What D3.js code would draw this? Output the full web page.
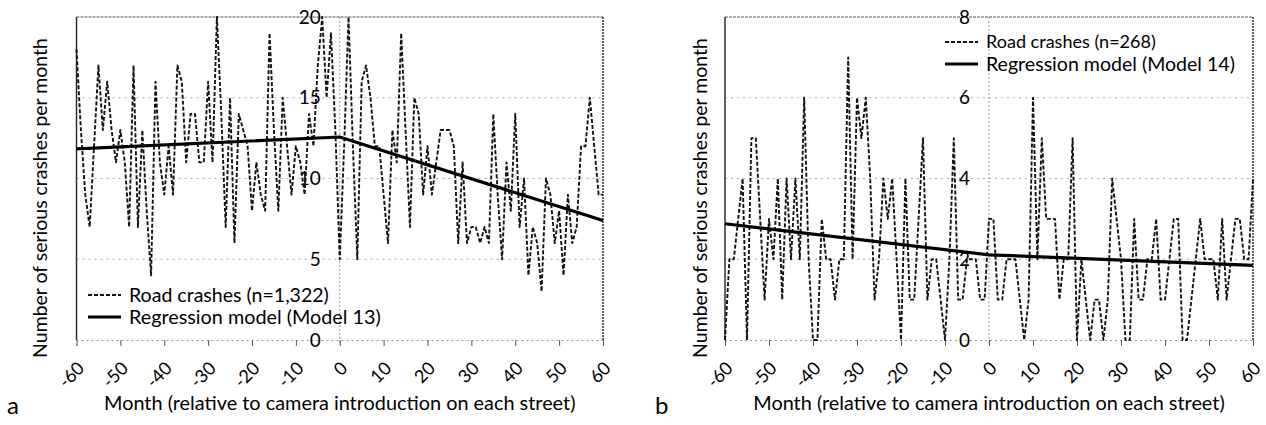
<!DOCTYPE html>
<html><head><meta charset="utf-8">
<script src="https://cdn.jsdelivr.net/npm/d3@7/dist/d3.min.js"></script>
<style>
body{margin:0;background:#fff}
text{font-family:Lato,"Open Sans",sans-serif;fill:#000}
</style>
</head><body>
<svg id="chart" width="1266" height="425"></svg>
<script>
// ---------- DATA ----------
const xTickValues = [-60,-50,-40,-30,-20,-10,0,10,20,30,40,50,60];
const yTicksA = [0,5,10,15,20];
const yTicksB = [0,2,4,6,8];

// Panel a: serious crashes per month, months -60 .. 60
const crashesA = [
 18,13,9,7,12,17,13,16,13,11,
 13,11,7,17,7,13,8,4,16,11,
 9,12,9,17,16,11,14,14,11,11,
 16,11,20,14,7,15,6,14,13,12,
 8,11,9,8,19,13,8,15,12,9,
 12,11,9,14,12,17,20,15,19,13,
 5,12,20,12,5,16,17,15,12,12,
 9,6,13,11,19,13,7,15,14,9,
 12,9,11,13,13,13,12,6,11,6,
 7,7,6,7,6,14,9,5,11,8,
 14,7,10,4,7,6,3,10,9,6,
 8,4,9,6,7,12,12,15,12,9,9
];
// Panel b
const crashesB = [
 0,2,2,3,4,0,5,5,3,1,
 3,2,4,1,4,2,4,2,6,2,
 0,0,3,2,2,1,2,2,7,2,
 6,5,6,4,1,2,4,3,4,2,
 0,4,1,1,3,5,1,2,2,1,
 0,2,5,1,1,2,2,2,1,1,
 3,3,1,1,2,2,2,1,0,1,
 6,2,5,3,3,3,1,2,2,5,
 0,2,1,0,1,1,0,1,4,3,
 2,0,0,3,1,1,2,2,3,1,
 1,2,3,3,0,0,1,2,3,2,
 2,2,1,3,1,2,3,3,2,2,4
];
// Regression models (piecewise, break at camera introduction)
const regMonths = [-60, 0, 60];
const regA = [11.84, 12.57, 7.4];
const regB = [2.88, 2.11, 1.85];

const legendA = ["Road crashes (n=1,322)", "Regression model (Model 13)"];
const legendB = ["Road crashes (n=268)", "Regression model (Model 14)"];
const yTitle = "Number of serious crashes per month";
const xTitle = "Month (relative to camera introduction on each street)";

// ---------- DRAW ----------
const svg = d3.select("#chart");

function fitText(sel, width, base) {
  sel.style("font-size", base + "px");
  const len = sel.node().getComputedTextLength();
  sel.style("font-size", (base * width / len).toFixed(2) + "px");
}

function panel(o) {
  const months = o.crashes.map((d, i) => i - 60);
  const x = d3.scaleLinear().domain([-60, 60]).range([o.x0, o.x1]);
  const y = d3.scaleLinear().domain([0, o.yMax]).range([o.yBot, o.yTop]);
  const g = svg.append("g");

  // gridlines
  g.selectAll(".grid").data(o.yTicks.filter(v => v > 0 && v < o.yMax)).join("line")
    .attr("x1", o.x0).attr("x2", o.x1).attr("y1", d => y(d)).attr("y2", d => y(d))
    .attr("stroke", "#aaa").attr("stroke-width", 1).attr("stroke-dasharray", "2,4");
  // top border
  g.append("line").attr("x1", o.x0).attr("x2", o.x1).attr("y1", y(o.yMax)).attr("y2", y(o.yMax))
    .attr("stroke", "#555").attr("stroke-width", 1.2).attr("stroke-dasharray", "3,1");
  // right border
  g.append("line").attr("x1", o.x1).attr("x2", o.x1).attr("y1", y(o.yMax)).attr("y2", y(0))
    .attr("stroke", "#333").attr("stroke-width", 1.5).attr("stroke-dasharray", "2,1");
  // zero month vertical line
  g.append("line").attr("x1", x(0)).attr("x2", x(0)).attr("y1", y(o.yMax)).attr("y2", y(0) + 4)
    .attr("stroke", "#999").attr("stroke-width", 1).attr("stroke-dasharray", "2,2");

  // bottom x axis
  const xAxis = d3.axisBottom(x).tickValues(xTickValues).tickSize(6).tickFormat(d => d);
  const ax = g.append("g").attr("transform", `translate(0,${y(0)})`).call(xAxis);
  ax.select(".domain").attr("stroke", "#999").attr("stroke-dasharray", "2,3");
  ax.selectAll(".tick line").attr("stroke", "#555");
  ax.selectAll(".tick text")
    .attr("text-anchor", "end")
    .attr("dy", "0.35em").attr("y", 0)
    .attr("transform", "translate(4,25) rotate(-45)")
    .style("font-size", "18px").style("font-family", "Lato, sans-serif").attr("fill", "#000");

  // left solid axis line
  g.append("line").attr("x1", o.x0).attr("x2", o.x0).attr("y1", y(o.yMax)).attr("y2", y(0))
    .attr("stroke", "#222").attr("stroke-width", 1.4);

  // y tick labels next to month-0 line
  const yAxis = d3.axisLeft(y).tickValues(o.yTicks).tickSize(0).tickPadding(19);
  const ay = g.append("g").attr("transform", `translate(${x(0)},0)`).call(yAxis);
  ay.select(".domain").remove();
  ay.selectAll(".tick text").style("font-size", "19px").style("font-family", "Lato, sans-serif").attr("fill", "#000");

  // crash series
  const line = d3.line().x((d, i) => x(months[i])).y(d => y(d));
  g.append("path").datum(o.crashes).attr("d", line)
    .attr("fill", "none").attr("stroke", "#111").attr("stroke-width", 1.9)
    .attr("stroke-dasharray", "4,2").attr("stroke-linejoin", "round");

  // regression
  const rline = d3.line().x((d, i) => x(regMonths[i])).y(d => y(d));
  g.append("path").datum(o.reg).attr("d", rline)
    .attr("fill", "none").attr("stroke", "#000").attr("stroke-width", 3.2);

  // legend
  g.append("line").attr("x1", o.lx).attr("x2", o.lx + 33).attr("y1", o.ly).attr("y2", o.ly)
    .attr("stroke", "#111").attr("stroke-width", 1.8).attr("stroke-dasharray", "4,2");
  g.append("line").attr("x1", o.lx).attr("x2", o.lx + 33).attr("y1", o.ly + 22).attr("y2", o.ly + 22)
    .attr("stroke", "#000").attr("stroke-width", 3.2);
  const t1 = g.append("text").attr("x", o.lx + 41).attr("y", o.ly).attr("dy", "0.36em").text(o.legend[0]);
  fitText(t1, o.lw[0], 20);
  const t2 = g.append("text").attr("x", o.lx + 41).attr("y", o.ly + 22).attr("dy", "0.36em").text(o.legend[1]);
  fitText(t2, o.lw[1], 20);

  // y title
  const yt = g.append("text").attr("text-anchor", "middle")
    .attr("transform", `translate(${o.ytx},198) rotate(-90)`).attr("dy", "0.35em").text(yTitle);
  fitText(yt, 320, 20);
  // x title
  const xt = g.append("text").attr("text-anchor", "middle").attr("x", x(0)).attr("y", 410).text(xTitle);
  fitText(xt, 472, 20);
  // panel letter
  g.append("text").attr("x", o.letterX).attr("y", 414).style("font-size", "24px").text(o.letter);
}

panel({x0: 76.5, x1: 603, yTop: 17, yBot: 340, yMax: 20, yTicks: yTicksA,
  crashes: crashesA, reg: regA, legend: legendA, lx: 88, ly: 295, lw: [200, 252],
  ytx: 40, letter: "a", letterX: 7});
panel({x0: 725, x1: 1253, yTop: 17, yBot: 340, yMax: 8, yTicks: yTicksB,
  crashes: crashesB, reg: regB, legend: legendB, lx: 945, ly: 42, lw: [170, 249],
  ytx: 700, letter: "b", letterX: 655});
</script>
</body></html>
